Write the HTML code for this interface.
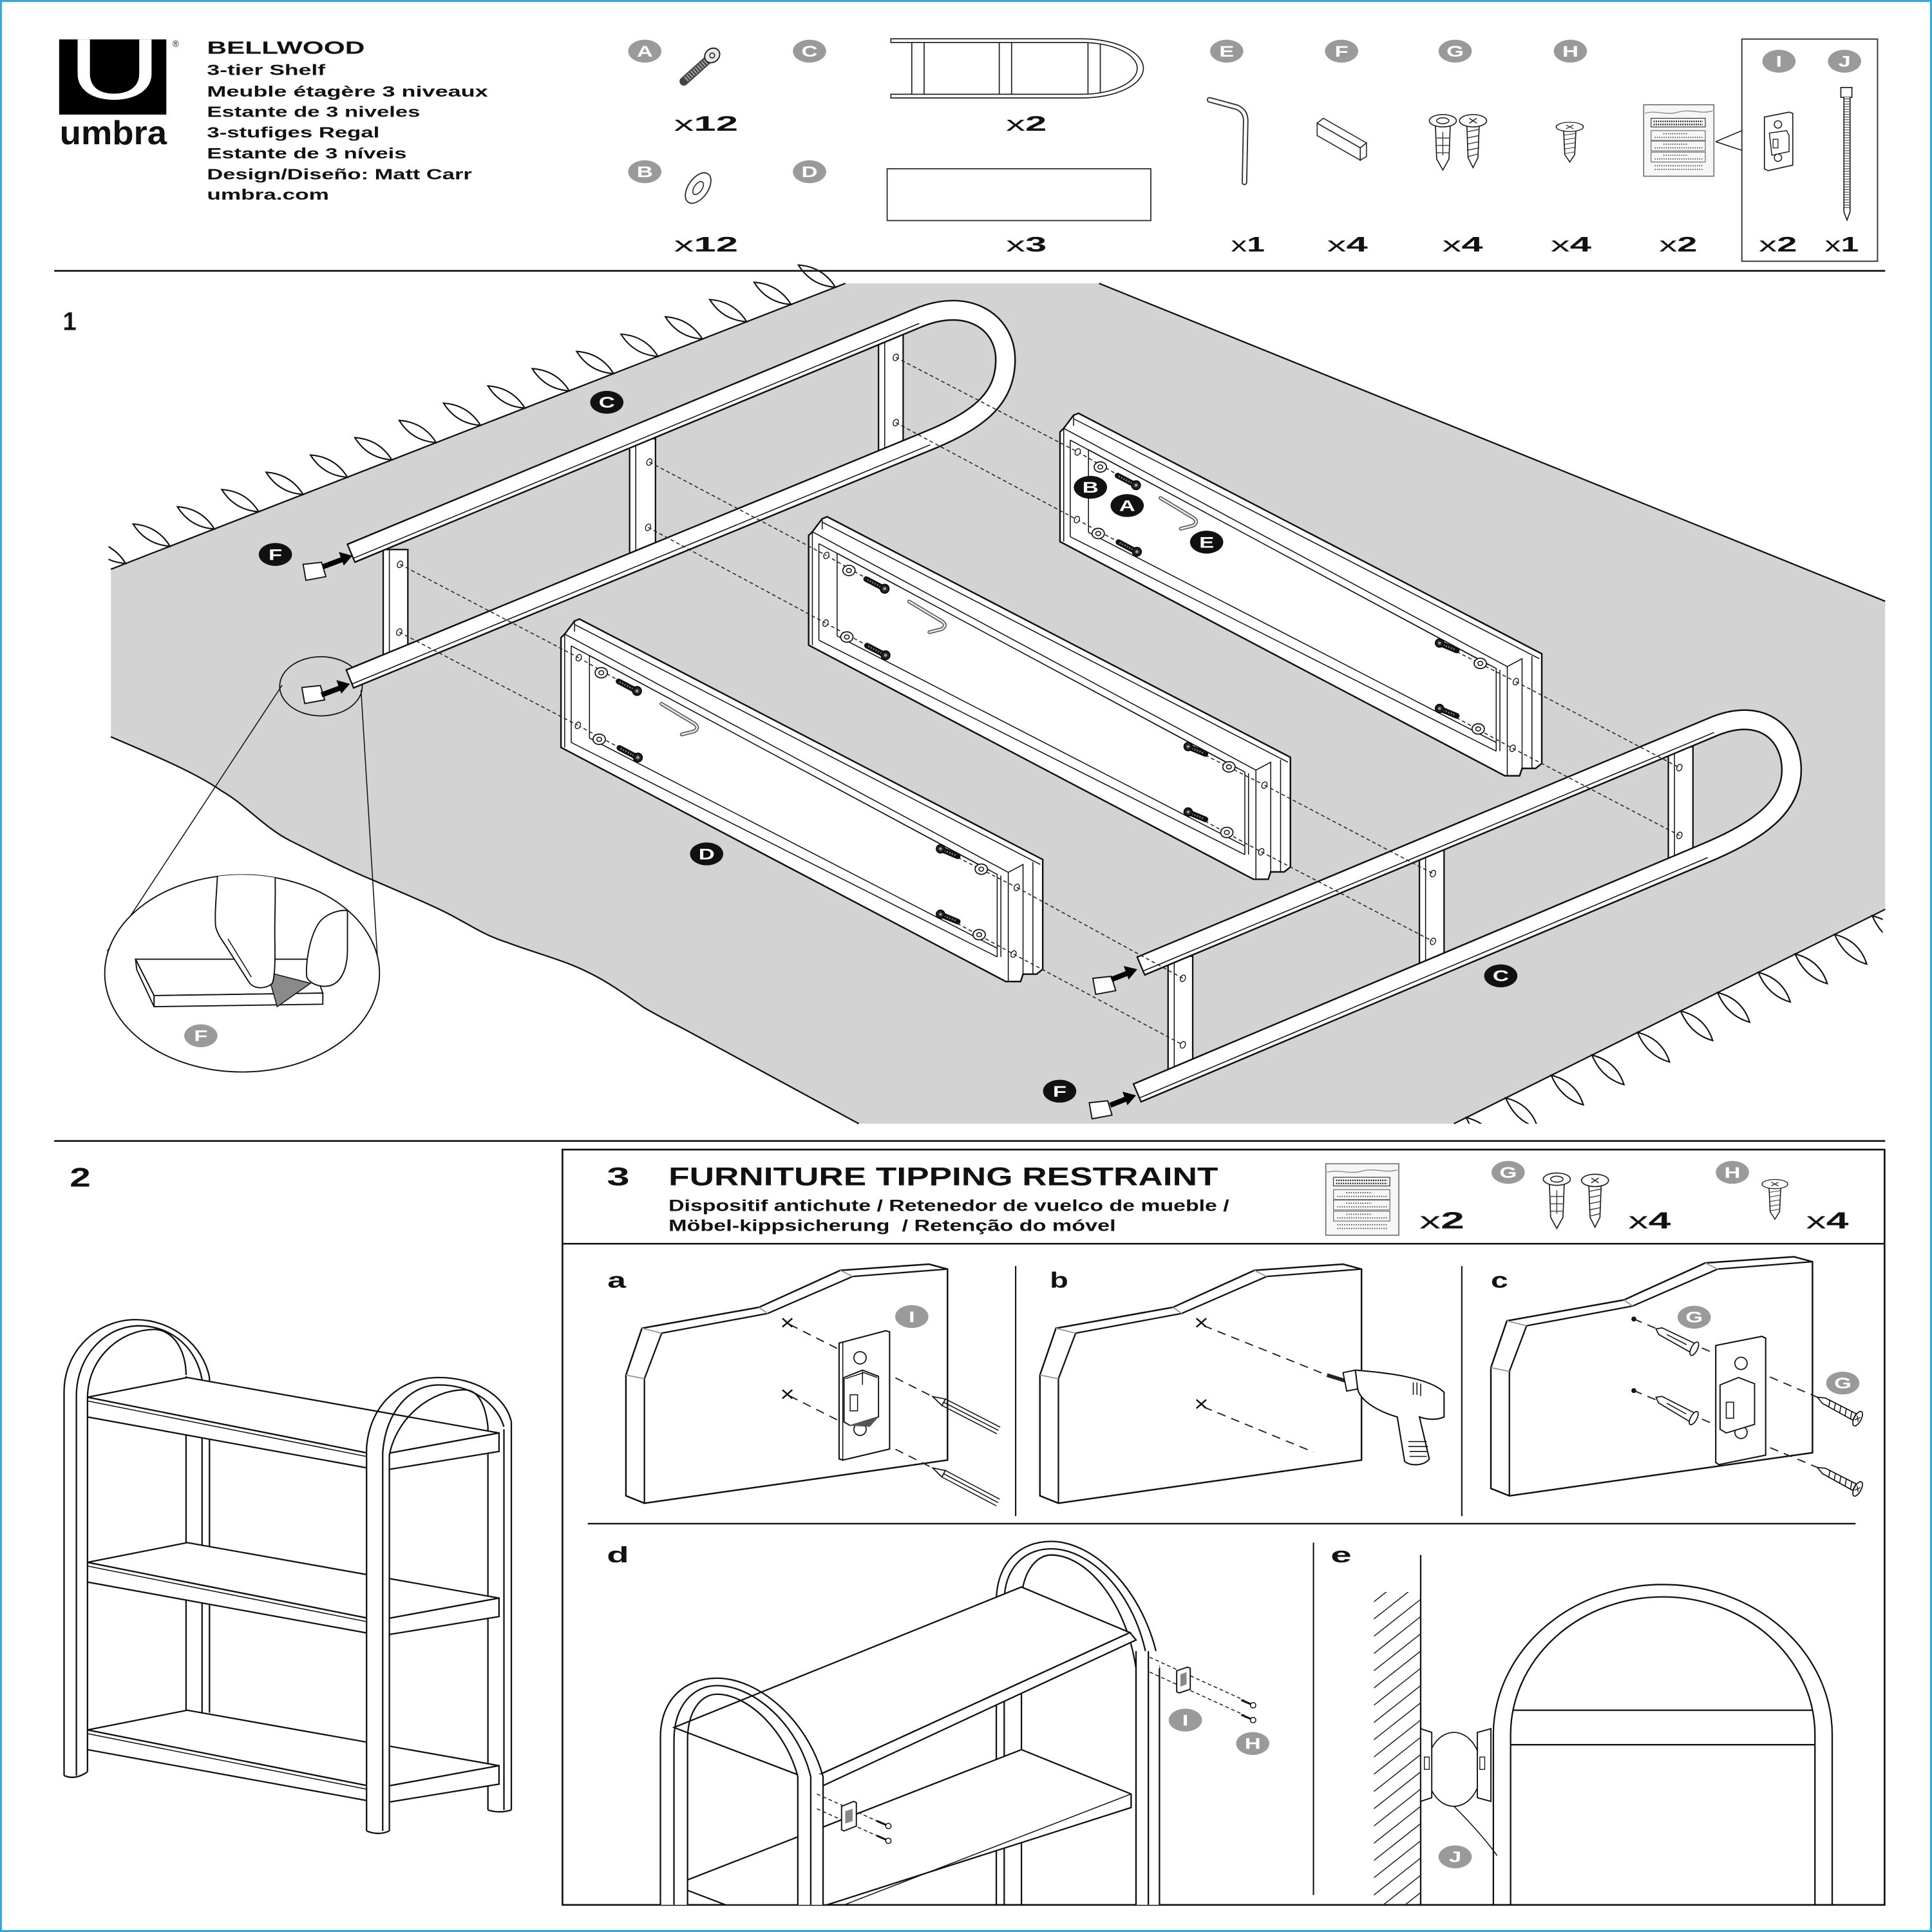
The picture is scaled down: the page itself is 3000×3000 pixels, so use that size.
<!DOCTYPE html>
<html><head><meta charset="utf-8"><title>Bellwood</title>
<style>
html,body{margin:0;padding:0;background:#fff}
svg{display:block}
text{font-family:"Liberation Sans",Arial,sans-serif;fill:#111}
.b{font-weight:bold}
.ln{fill:none;stroke:#111;stroke-width:1.2}
.th{fill:none;stroke:#111;stroke-width:.8}
.ds{fill:none;stroke:#222;stroke-width:.8;stroke-dasharray:3 2.2}
.dl{fill:none;stroke:#222;stroke-width:1;stroke-dasharray:7 5}
.wf{fill:#fff;stroke:#111;stroke-width:1.2}
.gc{fill:#9a9a9a}
.bc{fill:#111}
.lt{fill:#fff;font-weight:bold;font-size:12.5px}
</style></head><body>
<svg xmlns="http://www.w3.org/2000/svg" width="3000" height="3000" viewBox="0 0 1568 1568">
<defs>
<path id="lfA" d="M0,0 Q-10.4,-16.7 -30,-18 Q-19.6,-1.3 0,0 Z" fill="none" stroke="#111" stroke-width="1.1"/>
<path id="lfB" d="M0,0 Q8,19 26,24 Q20,5 0,0 Z" fill="none" stroke="#111" stroke-width="1.1"/>
<g id="wsh"><ellipse rx="5" ry="4.2" fill="#fff" stroke="#111" stroke-width=".9"/><ellipse rx="2" ry="1.7" fill="none" stroke="#111" stroke-width=".8"/></g>
<g id="hole"><ellipse rx="2" ry="2.8" fill="#fff" stroke="#111" stroke-width=".7" transform="rotate(25)"/></g>
<g id="scrL"><line x1="-15" y1="-7.8" x2="-2" y2="-1" stroke="#111" stroke-width="4.6" stroke-linecap="round"/><line x1="-14" y1="-7.3" x2="-3" y2="-1.5" stroke="#888" stroke-width="1.4" stroke-dasharray="1 1.2"/><circle r="3.6" fill="#222" stroke="#000" stroke-width=".8"/><circle r="1.3" fill="#999"/></g>
<g id="scrR"><line x1="2" y1="1" x2="14" y2="6" stroke="#111" stroke-width="4.6" stroke-linecap="round"/><line x1="3" y1="1.5" x2="13" y2="5.5" stroke="#888" stroke-width="1.4" stroke-dasharray="1 1.2"/><circle r="3.4" fill="#222" stroke="#000" stroke-width=".8"/><circle r="1.2" fill="#999"/></g>
<g id="pnl">
<path d="M-3,3 L0,0 L8,-10.6 L12,-12.2 L388,183 L388,272 L383,276 L372,276 L370,282 L358,282 L-3,92 Z" fill="#fff" stroke="#111" stroke-width="1.3"/>
<path d="M0,0 L360,193.4 L360,282 M0,0 L0,92 M8,-10.6 L8,-2 M8,-7.8 L386,187 M360,193.4 L372,187 L372,276 M380,185 L380,276 M5.3,9.6 L5.3,88 M20.1,17.4 L20.1,84.5 M5.3,9.6 L351,195 L351,262 M354,196 L354,262 M5.3,88 L351,262 M20.1,17.4 L345,192 M20.1,84.5 L351,255" class="th"/>
<path d="M11.4,19.2 L58.7,46.2 M10.7,74.1 L59.4,100.2 M305,174.3 L366.9,205.6 M305,227.4 L364.3,259.7" class="ds"/>
<use href="#hole" x="11.4" y="19.2"/><use href="#hole" x="10.7" y="74.1"/>
<use href="#hole" x="366.9" y="205.6"/><use href="#hole" x="364.3" y="259.7"/>
<use href="#wsh" x="29.7" y="31.4"/><use href="#wsh" x="28" y="85.4"/>
<use href="#wsh" x="338.1" y="190.8"/><use href="#wsh" x="336.4" y="244"/>
<use href="#scrL" x="58.7" y="46.2"/><use href="#scrL" x="59.4" y="100.2"/>
<use href="#scrR" x="305" y="174.3"/><use href="#scrR" x="305" y="227.4"/>
<path d="M78.5,56.6 L105,72.5 Q110,76 105,79 L95,81.5" fill="none" stroke="#555" stroke-width="3" stroke-linecap="round"/>
<path d="M78.5,56.6 L105,72.5 Q110,76 105,79 L95,81.5" fill="none" stroke="#eee" stroke-width="1.3" stroke-linecap="round"/>
</g>
<g id="board">
<path d="M508,1116 L508,1214 L523,1220 L769,1185 L769,1030 L754,1026 L682,1031 L616,1061 L521,1078 Z" fill="#fff" stroke="#111" stroke-width="1.3"/>
<path d="M523,1220 L523,1119 L537,1082 L623,1066 L692,1036 L769,1030" class="ln"/>
<path d="M508,1116 L523,1119 M521,1078 L537,1082 M616,1061 L623,1066 M682,1031 L692,1036" fill="none" stroke="#999" stroke-width="1"/>
</g>
<g id="bag">
<rect x="0" y="0" width="57" height="58" fill="#f6f6f6" stroke="#666" stroke-width=".8"/>
<path d="M1,7 C10,4 18,9 28,6 S46,8 56,5" fill="none" stroke="#888" stroke-width=".7"/>
<rect x="6" y="11" width="44" height="7" fill="#fff" stroke="#444" stroke-width=".7"/>
<path d="M8,13.5 H48 M8,16 H48" stroke="#222" stroke-width="1.3" stroke-dasharray="1 .8"/>
<rect x="6" y="21" width="44" height="8" fill="none" stroke="#666" stroke-width=".6"/>
<rect x="6" y="29.5" width="44" height="8" fill="none" stroke="#666" stroke-width=".6"/>
<rect x="6" y="38.5" width="44" height="8" fill="none" stroke="#666" stroke-width=".6"/>
<path d="M16,23.5 H36 M9,26.5 H48 M16,32 H36 M9,35 H48 M16,41 H36 M9,44 H48 M9,49.5 H48 M9,52.5 H48" stroke="#444" stroke-width=".9" stroke-dasharray=".8 1"/>
</g>
<g id="anchV"><path d="M-6,4 L-5,31 L0,40 L5,31 L6,4 Z" fill="#fff" stroke="#222" stroke-width=".9"/><path d="M0,9 V28 M-5,14 H5 M-5,20 H5 M-5,26 H5" fill="none" stroke="#333" stroke-width=".7"/><ellipse rx="11" ry="5" fill="#fff" stroke="#222" stroke-width=".9"/><ellipse rx="5" ry="2.4" fill="none" stroke="#222" stroke-width=".8"/></g>
<g id="scrV"><path d="M-5,4 L-4,30 L0,38 L4,30 L5,4 Z" fill="#fff" stroke="#222" stroke-width=".9"/><path d="M-5,9 L5,7 M-5,14 L5,12 M-5,19 L5,17 M-5,24 L5,22 M-4,29 L4,27" fill="none" stroke="#333" stroke-width=".7"/><ellipse rx="11" ry="5" fill="#fff" stroke="#222" stroke-width=".9"/><path d="M-3,-2 L3,2 M3,-2 L-3,2" stroke="#222" stroke-width=".8"/></g>
<g id="shf">
<path d="M71,1134 L152,1118 L405,1163 L307,1181 Z" class="wf"/>
<path d="M71,1134 L307,1181 L307,1193 L71,1150 Z" class="wf"/>
<path d="M307,1181 L405,1163 L405,1178 L307,1194 Z" class="wf"/>
<path d="M71,1137 L307,1184" class="th"/>
</g>
<clipPath id="cUL"><rect x="88" y="200" width="700" height="300"/></clipPath>
<clipPath id="cLR"><rect x="1100" y="700" width="428" height="212"/></clipPath>
<clipPath id="cMag"><ellipse cx="196.5" cy="790" rx="111.5" ry="80"/></clipPath>
<clipPath id="cBox"><rect x="457" y="1240" width="1071" height="306"/></clipPath>
<clipPath id="cHatch"><rect x="1115" y="1292" width="38" height="254"/></clipPath>
</defs>

<rect width="1568" height="1568" fill="#fff"/>
<rect x="0.8" y="0.8" width="1566.4" height="1566.4" fill="none" stroke="#35a8e0" stroke-width="1.6"/>

<!-- ===== HEADER ===== -->
<rect x="48" y="32" width="87" height="61" fill="#000"/>
<path d="M63,32 L63,60 C63,73 75,81 92.5,81 C110,81 123,73 123,60 L123,32 L113,32 L113,60 C113,70 105,76 92.5,76 C80,76 73,70 73,60 L73,32 Z" fill="#fff"/>
<text x="48.4" y="117" font-size="27" class="b" textLength="87" lengthAdjust="spacingAndGlyphs">umbra</text>
<text x="140" y="38" font-size="7">®</text>
<text x="168" y="43.6" font-size="14.5" class="b" textLength="128" lengthAdjust="spacingAndGlyphs">BELLWOOD</text>
<text x="168" y="61" font-size="12" class="b" textLength="96" lengthAdjust="spacingAndGlyphs">3-tier Shelf</text>
<text x="168" y="78.4" font-size="12" class="b" textLength="228" lengthAdjust="spacingAndGlyphs">Meuble étagère 3 niveaux</text>
<text x="168" y="95" font-size="12" class="b" textLength="173" lengthAdjust="spacingAndGlyphs">Estante de 3 niveles</text>
<text x="168" y="111.6" font-size="12" class="b" textLength="140" lengthAdjust="spacingAndGlyphs">3-stufiges Regal</text>
<text x="168" y="128.6" font-size="12" class="b" textLength="162" lengthAdjust="spacingAndGlyphs">Estante de 3 níveis</text>
<text x="168" y="145.5" font-size="12" class="b" textLength="215" lengthAdjust="spacingAndGlyphs">Design/Diseño: Matt Carr</text>
<text x="168" y="162" font-size="12" class="b" textLength="99" lengthAdjust="spacingAndGlyphs">umbra.com</text>

<!-- parts labels -->
<g transform="translate(523.3,41.5) scale(1.45,1)"><circle r="9.3" class="gc"/><text y="4.4" text-anchor="middle" class="lt">A</text></g>
<g transform="translate(657,41.5) scale(1.45,1)"><circle r="9.3" class="gc"/><text y="4.4" text-anchor="middle" class="lt">C</text></g>
<g transform="translate(523.3,139.4) scale(1.45,1)"><circle r="9.3" class="gc"/><text y="4.4" text-anchor="middle" class="lt">B</text></g>
<g transform="translate(657,139.4) scale(1.45,1)"><circle r="9.3" class="gc"/><text y="4.4" text-anchor="middle" class="lt">D</text></g>
<g transform="translate(995.6,41.5) scale(1.45,1)"><circle r="9.3" class="gc"/><text y="4.4" text-anchor="middle" class="lt">E</text></g>
<g transform="translate(1088.8,41.5) scale(1.45,1)"><circle r="9.3" class="gc"/><text y="4.4" text-anchor="middle" class="lt">F</text></g>
<g transform="translate(1181,41.5) scale(1.45,1)"><circle r="9.3" class="gc"/><text y="4.4" text-anchor="middle" class="lt">G</text></g>
<g transform="translate(1274.5,41.5) scale(1.45,1)"><circle r="9.3" class="gc"/><text y="4.4" text-anchor="middle" class="lt">H</text></g>
<g transform="translate(1443.8,49.7) scale(1.45,1)"><circle r="9.3" class="gc"/><text y="4.4" text-anchor="middle" class="lt">I</text></g>
<g transform="translate(1497,49.7) scale(1.45,1)"><circle r="9.3" class="gc"/><text y="4.4" text-anchor="middle" class="lt">J</text></g>

<!-- A screw -->
<line x1="574" y1="49" x2="555" y2="66" stroke="#444" stroke-width="7" stroke-linecap="round"/>
<line x1="573" y1="50" x2="556" y2="65" stroke="#aaa" stroke-width="5" stroke-dasharray="1 1.3"/>
<ellipse cx="578" cy="45" rx="6.5" ry="5.5" fill="#e8e8e8" stroke="#222" stroke-width="1" transform="rotate(-40 578 45)"/>
<circle cx="578" cy="45" r="2" fill="none" stroke="#222" stroke-width=".8"/>
<!-- B washer -->
<ellipse cx="566.6" cy="152.6" rx="14" ry="8" fill="#fff" stroke="#333" stroke-width="1" transform="rotate(-55 566.6 152.6)"/>
<ellipse cx="566.6" cy="152.6" rx="6" ry="3.2" fill="none" stroke="#333" stroke-width=".9" transform="rotate(-55 566.6 152.6)"/>
<!-- C rail -->
<path d="M723,31.5 L878,31.5 A50,24 0 0 1 878,79.5 L723,79.5 L723,76.5 L878,76.5 A45,21 0 0 0 878,34.5 L723,34.5 Z" fill="#fff" stroke="#222" stroke-width=".9"/>
<path d="M740,34.5 V76.5 M750,34.5 V76.5 M811,34.5 V76.5 M821,34.5 V76.5 M883,34.5 V76.5 M893,35.5 V75.5" fill="none" stroke="#222" stroke-width=".9"/>
<!-- D board -->
<rect x="720" y="137" width="214" height="42" fill="none" stroke="#222" stroke-width=".9"/>
<!-- E key -->
<path d="M981.7,81 L1003.7,87 Q1011,90 1011,98 L1010,148" fill="none" stroke="#333" stroke-width="4.6" stroke-linecap="round"/>
<path d="M981.7,81 L1003.7,87 Q1011,90 1011,98 L1010,148" fill="none" stroke="#fff" stroke-width="2.6" stroke-linecap="round"/>
<!-- F pad -->
<path d="M1069,100 L1074,96 L1109,116 L1104,120 Z" fill="#fff" stroke="#333" stroke-width=".9"/>
<path d="M1069,100 L1104,120 L1104,130 L1069,110 Z" fill="#fff" stroke="#333" stroke-width=".9"/>
<path d="M1104,120 L1109,116 L1109,127 L1104,130 Z" fill="#fff" stroke="#333" stroke-width=".9"/>
<!-- G anchor + screw -->
<use href="#anchV" x="1171" y="98"/>
<use href="#scrV" x="1195.5" y="98"/>
<!-- H screw -->
<g transform="translate(1274,103) scale(1,.75)"><use href="#scrV"/></g>
<!-- bag -->
<use href="#bag" x="1334" y="85"/>
<path d="M1392.5,115 L1413.7,106 M1392.5,115 L1413.7,122" class="th"/>
<rect x="1413.7" y="31.7" width="110.1" height="180.3" fill="none" stroke="#333" stroke-width="1"/>
<!-- I bracket -->
<path d="M1432,95 L1452,91 L1455,92 L1455,134 L1435,138.5 L1432,137 Z" fill="#fff" stroke="#222" stroke-width=".9"/>
<circle cx="1443" cy="101" r="3" fill="none" stroke="#222" stroke-width=".8"/>
<circle cx="1443" cy="128" r="3" fill="none" stroke="#222" stroke-width=".8"/>
<path d="M1436,108 L1450,106 L1452,110 L1452,123 L1438,126 Z" fill="#fff" stroke="#222" stroke-width=".8"/>
<rect x="1439" y="113" width="4" height="7" fill="none" stroke="#222" stroke-width=".7"/>
<!-- J tie -->
<rect x="1494" y="71" width="9" height="8" fill="#fff" stroke="#222" stroke-width=".9"/>
<path d="M1496.5,79 L1496.5,172 L1499,178.6 L1501.5,172 L1501.5,79" fill="#fff" stroke="#222" stroke-width=".9"/>
<line x1="1499" y1="80" x2="1499" y2="170" stroke="#444" stroke-width="4" stroke-dasharray=".6 1.5"/>

<!-- counts -->
<g font-size="17">
<text x="547" y="106" textLength="52" lengthAdjust="spacingAndGlyphs">x<tspan class="b">12</tspan></text>
<text x="816.5" y="106" textLength="33" lengthAdjust="spacingAndGlyphs">x<tspan class="b">2</tspan></text>
<text x="547" y="204" textLength="52" lengthAdjust="spacingAndGlyphs">x<tspan class="b">12</tspan></text>
<text x="816.5" y="204" textLength="33" lengthAdjust="spacingAndGlyphs">x<tspan class="b">3</tspan></text>
<text x="999" y="204" textLength="27.5" lengthAdjust="spacingAndGlyphs">x<tspan class="b">1</tspan></text>
<text x="1077" y="204" textLength="33" lengthAdjust="spacingAndGlyphs">x<tspan class="b">4</tspan></text>
<text x="1170.5" y="204" textLength="33" lengthAdjust="spacingAndGlyphs">x<tspan class="b">4</tspan></text>
<text x="1258.5" y="204" textLength="33" lengthAdjust="spacingAndGlyphs">x<tspan class="b">4</tspan></text>
<text x="1346.5" y="204" textLength="31" lengthAdjust="spacingAndGlyphs">x<tspan class="b">2</tspan></text>
<text x="1427.5" y="204" textLength="31" lengthAdjust="spacingAndGlyphs">x<tspan class="b">2</tspan></text>
<text x="1481" y="204" textLength="27.5" lengthAdjust="spacingAndGlyphs">x<tspan class="b">1</tspan></text>
</g>

<line x1="44" y1="219.8" x2="1530" y2="219.8" stroke="#111" stroke-width="1.4"/>

<!-- ===== STEP 1 ===== -->
<text x="51" y="268" font-size="21" class="b" textLength="11" lengthAdjust="spacingAndGlyphs">1</text>

<path d="M90,462 L686,230 L892,230 L1530,488 L1530,738 L1180,912 L697,912 L553,834 C545,830 530,822 523,818 C505,805 490,795 477,789 C460,780 430,772 412,765 C395,760 380,750 372,746 C355,736 320,722 302,714 C280,705 255,692 235,682 C215,672 198,652 180,642 C160,628 130,615 90,598 Z" fill="#d3d3d3"/>
<path d="M90,462 L686,230 M892,230 L1530,488 M1530,738 L1180,912" class="ln"/>
<path d="M90,598 C130,615 160,628 180,642 C198,652 215,672 235,682 C255,692 280,705 302,714 C320,722 355,736 372,746 C380,750 395,760 412,765 C430,772 460,780 477,789 C490,795 505,805 523,818 C530,822 545,830 553,834 L697,912" class="ln"/>

<g clip-path="url(#cUL)">
<use href="#lfA" x="102" y="457.3"/><use href="#lfA" x="138" y="443.3"/><use href="#lfA" x="174" y="429.3"/>
<use href="#lfA" x="210" y="415.3"/><use href="#lfA" x="246" y="401.3"/><use href="#lfA" x="282" y="387.3"/>
<use href="#lfA" x="318" y="373.2"/><use href="#lfA" x="354" y="359.2"/><use href="#lfA" x="390" y="345.2"/>
<use href="#lfA" x="426" y="331.2"/><use href="#lfA" x="462" y="317.2"/><use href="#lfA" x="498" y="303.2"/>
<use href="#lfA" x="534" y="289.2"/><use href="#lfA" x="570" y="275.1"/><use href="#lfA" x="606" y="261.1"/>
<use href="#lfA" x="642" y="247.1"/><use href="#lfA" x="678" y="233.1"/>
</g>
<g clip-path="url(#cLR)">
<use href="#lfB" x="1519.5" y="743.2"/><use href="#lfB" x="1489" y="758.4"/><use href="#lfB" x="1457" y="774.3"/>
<use href="#lfB" x="1427" y="789.2"/><use href="#lfB" x="1394" y="805.6"/><use href="#lfB" x="1364" y="820.5"/>
<use href="#lfB" x="1329" y="837.9"/><use href="#lfB" x="1292" y="856.3"/><use href="#lfB" x="1259" y="872.7"/>
<use href="#lfB" x="1222" y="891.1"/><use href="#lfB" x="1190" y="907"/>
</g>

<!-- magnifier -->
<path d="M229,556 L87,772 M293,560 L307,788" class="th"/>
<ellipse cx="260.5" cy="557" rx="33.5" ry="24" fill="none" stroke="#111" stroke-width=".9"/>
<ellipse cx="196.5" cy="790" rx="111.5" ry="80" fill="#fff" stroke="#111" stroke-width="1"/>
<g clip-path="url(#cMag)">
<path d="M110,778.5 L252,778.5 L262,806 L125,808 Z" fill="#fff" stroke="#111" stroke-width="1"/>
<path d="M125,808 L262,806 L262,815 L125,817 Z" fill="#fff" stroke="#111" stroke-width="1"/>
<path d="M110,778.5 L125,808 L125,817 L111,787 Z" fill="#fff" stroke="#111" stroke-width="1"/>
<path d="M217,789 L252,798 L225,817 Z" fill="#8a8a8a" stroke="#111" stroke-width=".8"/>
<path d="M177,700 C176,725 174,740 175,752 C177,760 182,765 186,772 L202,797 C206,803 216,803 221,798 C224,790 223,770 223,755 C223,740 224,725 223,700" fill="#fff" stroke="#111" stroke-width="1"/>
<path d="M185,762 L204,793" class="th"/>
<path d="M282,739 C275,738 262,742 257,752 C250,765 248,785 249,793 C252,800 265,803 272,798 C278,794 282,785 282,770 Z" fill="#fff" stroke="#111" stroke-width="1"/>
<path d="M282,700 L282,739" class="th"/>
</g>
<g transform="translate(163,840.6) scale(1.45,1)"><circle r="9.3" class="gc"/><text y="4.4" text-anchor="middle" class="lt">F</text></g>

<!-- left rail posts -->
<rect x="311" y="446" width="20" height="92" class="wf"/><line x1="316" y1="446" x2="316" y2="538" class="th"/>
<rect x="511" y="356" width="21" height="98" class="wf"/><line x1="516" y1="356" x2="516" y2="454" class="th"/>
<rect x="713" y="268" width="20" height="100" class="wf"/><line x1="718" y1="268" x2="718" y2="368" class="th"/>
<use href="#hole" x="324.6" y="458"/><use href="#hole" x="324" y="513"/>
<use href="#hole" x="527" y="375"/><use href="#hole" x="526" y="428"/>
<use href="#hole" x="727" y="290"/><use href="#hole" x="727" y="343"/>
<!-- left rail -->
<path d="M285,449 L745,258 C786.5,240.8 816,262 816,292 C816,322 796.6,339.8 755,357 L284,551" fill="none" stroke="#111" stroke-width="17"/>
<path d="M285,449 L745,258 C786.5,240.8 816,262 816,292 C816,322 796.6,339.8 755,357 L284,551" fill="none" stroke="#fff" stroke-width="14.4"/>
<path d="M287,453 L746,262.5 M286,555 L755,361" class="th"/>
<path d="M281.7,441.2 L288.3,456.8 M280.8,543.1 L287.2,558.9" class="ln"/>

<!-- right rail posts -->
<rect x="948" y="776" width="20" height="96" class="wf"/><line x1="953" y1="776" x2="953" y2="872" class="th"/>
<rect x="1152" y="690" width="20" height="97" class="wf"/><line x1="1157" y1="690" x2="1157" y2="787" class="th"/>
<rect x="1354" y="606" width="20" height="96" class="wf"/><line x1="1359" y1="606" x2="1359" y2="702" class="th"/>
<use href="#hole" x="960" y="794"/><use href="#hole" x="960" y="848"/>
<use href="#hole" x="1163" y="709"/><use href="#hole" x="1163" y="764"/>
<use href="#hole" x="1363" y="623"/><use href="#hole" x="1363" y="678"/>
<!-- right rail -->
<path d="M926,784 L1390,590 C1431.5,572.6 1454,597 1454,625 C1454,655 1426.5,674.6 1385,692 L923,887" fill="none" stroke="#111" stroke-width="17"/>
<path d="M926,784 L1390,590 C1431.5,572.6 1454,597 1454,625 C1454,655 1426.5,674.6 1385,692 L923,887" fill="none" stroke="#fff" stroke-width="14.4"/>
<path d="M928,788 L1391,594.5 M925,891 L1386,696" class="th"/>
<path d="M922.7,776.2 L929.3,791.8 M919.7,879.2 L926.3,894.8" class="ln"/>

<!-- panels D -->
<use href="#pnl" x="863.3" y="347.6"/>
<use href="#pnl" x="659.3" y="431.6"/>
<use href="#pnl" x="458.3" y="514.6"/>

<!-- dashed connectors -->
<path d="M324.6,458 L469.7,533.8 M324,513 L469,588.7 M527,375 L670.7,450.8 M526,428 L670,505.7 M727,290 L874.7,366.8 M727,343 L874,421.7 M825.2,720.2 L960,794 M822.6,774.3 L960,848 M1026.2,637.2 L1163,709 M1023.6,691.3 L1163,764 M1230.2,553.2 L1363,623 M1227.6,607.3 L1363,678" class="ds"/>

<!-- F pads and arrows -->
<path d="M246,458 L261,456.4 L264.5,468 L248.3,471 Z" fill="#fff" stroke="#111" stroke-width="1"/>
<path d="M245,558 L260,556.4 L263.5,568 L247.3,571 Z" fill="#fff" stroke="#111" stroke-width="1"/>
<path d="M887,794 L902,792.4 L905.5,804 L889.3,807 Z" fill="#fff" stroke="#111" stroke-width="1"/>
<path d="M884,895 L899,893.4 L902.5,905 L886.3,908 Z" fill="#fff" stroke="#111" stroke-width="1"/>
<g stroke="#000" stroke-width="4.2" fill="none">
<path d="M262,460 L278,454"/><path d="M261,564 L277,558"/><path d="M902,795 L916,789.5"/><path d="M901,897 L915,891.5"/>
</g>
<path d="M286,451 L275,448 L279,459 Z M284,555 L273,552 L277,563 Z M923,786.7 L912,784 L916,795 Z M922,889 L911,886 L915,897 Z" fill="#000"/>

<!-- step 1 labels -->
<g transform="translate(492.5,326.5) scale(1.45,1)"><circle r="9.3" class="bc"/><text y="4.4" text-anchor="middle" class="lt">C</text></g>
<g transform="translate(223.5,450) scale(1.45,1)"><circle r="9.3" class="bc"/><text y="4.4" text-anchor="middle" class="lt">F</text></g>
<g transform="translate(885,395.5) scale(1.45,1)"><circle r="9.3" class="bc"/><text y="4.4" text-anchor="middle" class="lt">B</text></g>
<g transform="translate(914.8,410.3) scale(1.45,1)"><circle r="9.3" class="bc"/><text y="4.4" text-anchor="middle" class="lt">A</text></g>
<g transform="translate(979.3,440) scale(1.45,1)"><circle r="9.3" class="bc"/><text y="4.4" text-anchor="middle" class="lt">E</text></g>
<g transform="translate(573.5,693) scale(1.45,1)"><circle r="9.3" class="bc"/><text y="4.4" text-anchor="middle" class="lt">D</text></g>
<g transform="translate(1218,792) scale(1.45,1)"><circle r="9.3" class="bc"/><text y="4.4" text-anchor="middle" class="lt">C</text></g>
<g transform="translate(860,885.6) scale(1.45,1)"><circle r="9.3" class="bc"/><text y="4.4" text-anchor="middle" class="lt">F</text></g>

<line x1="44" y1="926" x2="1530" y2="926" stroke="#111" stroke-width="1.4"/>

<!-- ===== STEP 2 ===== -->
<text x="56.6" y="963" font-size="22" class="b" textLength="17" lengthAdjust="spacingAndGlyphs">2</text>
<path d="M151,1117 V1390 M164,1120 V1390 M170,1118 V1390" class="ln"/>
<path d="M396,1158 V1469 M409,1160 V1469 M415,1154 V1469 M396,1469 Q405,1472 415,1469" class="ln"/>
<use href="#shf"/>
<use href="#shf" y="134"/>
<use href="#shf" y="270"/>
<rect x="52" y="1130" width="19" height="311" fill="#fff"/>
<path d="M52,1441 V1130 C52,1095 80,1071 110,1071 C140,1071 165,1092 170,1118 M62,1441 V1133 C62,1100 86,1076 113,1076 C140,1076 160,1095 164,1120 M71,1438 V1135 C71,1100 100,1079 125,1079 C140,1079 151,1095 151,1116 M52,1441 Q61,1445 71,1438" class="ln"/>
<rect x="297.5" y="1176" width="18.5" height="310" fill="#fff"/>
<path d="M297.5,1486 V1175 C300,1140 325,1118 356,1118 C385,1118 410,1132 415,1154 M310.6,1486 V1179 C313,1145 333,1124 356,1124 C382,1124 403,1138 409,1158 M316,1486 V1181 C322,1150 350,1128 377,1128 C388,1128 394,1140 396,1158 M297.5,1486 Q307,1490 316,1486" class="ln"/>

<!-- ===== STEP 3 ===== -->
<rect x="456.5" y="933" width="1073" height="613" fill="none" stroke="#111" stroke-width="1.4"/>
<line x1="456.5" y1="1009.4" x2="1529.5" y2="1009.4" stroke="#111" stroke-width="1.3"/>
<text x="492.5" y="962" font-size="21" class="b" textLength="18.5" lengthAdjust="spacingAndGlyphs">3</text>
<text x="542.6" y="962" font-size="21" class="b" textLength="446" lengthAdjust="spacingAndGlyphs">FURNITURE TIPPING RESTRAINT</text>
<text x="542.6" y="983" font-size="13" class="b" textLength="455" lengthAdjust="spacingAndGlyphs">Dispositif antichute / Retenedor de vuelco de mueble /</text>
<text x="542.6" y="999" font-size="13" class="b" textLength="363" lengthAdjust="spacingAndGlyphs">Möbel-kippsicherung&#160; / Retenção do móvel</text>
<g transform="translate(1076,944.5) scale(1.04,1)"><use href="#bag"/></g>
<use href="#anchV" x="1263.5" y="957"/>
<use href="#scrV" x="1294.5" y="958"/>
<g transform="translate(1440.5,961) scale(.95,.75)"><use href="#scrV"/></g>
<g transform="translate(1224,951.5) scale(1.45,1)"><circle r="9.3" class="gc"/><text y="4.4" text-anchor="middle" class="lt">G</text></g>
<g transform="translate(1406,951.5) scale(1.45,1)"><circle r="9.3" class="gc"/><text y="4.4" text-anchor="middle" class="lt">H</text></g>
<g font-size="19">
<text x="1152" y="997" textLength="36.5" lengthAdjust="spacingAndGlyphs">x<tspan class="b">2</tspan></text>
<text x="1321.5" y="997" textLength="34.5" lengthAdjust="spacingAndGlyphs">x<tspan class="b">4</tspan></text>
<text x="1465.8" y="997" textLength="34.5" lengthAdjust="spacingAndGlyphs">x<tspan class="b">4</tspan></text>
</g>

<!-- sub labels and dividers -->
<g font-size="18" class="b">
<text x="493" y="1045" textLength="15" lengthAdjust="spacingAndGlyphs">a</text>
<text x="852" y="1045" textLength="15" lengthAdjust="spacingAndGlyphs">b</text>
<text x="1210" y="1045" textLength="14" lengthAdjust="spacingAndGlyphs">c</text>
<text x="492.5" y="1268" textLength="18" lengthAdjust="spacingAndGlyphs">d</text>
<text x="1080" y="1268" textLength="17" lengthAdjust="spacingAndGlyphs">e</text>
</g>
<path d="M824.3,1027.5 V1230.5 M1186.4,1027.5 V1230.5" stroke="#111" stroke-width="1.1"/>
<line x1="477" y1="1236.6" x2="1506" y2="1236.6" stroke="#111" stroke-width="1.2"/>

<!-- panel a -->
<use href="#board"/>
<path d="M641,1075 L757,1133.5 M641,1133 L757,1191.4" class="dl"/>
<path d="M681,1090 L719,1080 L722,1081 L722,1176 L684,1185 L681,1184 Z" fill="#fff" stroke="#111" stroke-width="1.1"/>
<path d="M684,1089 L684,1185" class="th"/>
<circle cx="698" cy="1102" r="5" fill="#fff" stroke="#111" stroke-width=".9"/>
<circle cx="698" cy="1160" r="5" fill="#fff" stroke="#111" stroke-width=".9"/>
<path d="M685,1118 L700,1112 L713,1117 L713,1150 L690,1157 L685,1154 Z" fill="#fff" stroke="#111" stroke-width="1"/>
<path d="M686,1119 L701,1114 L712,1118 M700,1113 L700,1124" class="th"/>
<rect x="690" y="1132" width="6" height="13" fill="none" stroke="#111" stroke-width=".8"/>
<path d="M688,1157 L713,1150 L706,1158 Z" fill="#555"/>
<path d="M635,1070 L643,1077 M643,1070 L635,1077 M635,1128 L643,1135 M643,1128 L635,1135" stroke="#111" stroke-width="1.3"/>
<g transform="translate(757,1133.5) rotate(27.2)"><path d="M0,0 L10,-3 L10,3 Z" fill="#fff" stroke="#111" stroke-width=".9"/><path d="M10,-3 L60,-3 M10,3 L60,3 M10,0 L60,0" class="th"/></g>
<g transform="translate(757,1191.4) rotate(27.9)"><path d="M0,0 L10,-3 L10,3 Z" fill="#fff" stroke="#111" stroke-width=".9"/><path d="M10,-3 L60,-3 M10,3 L60,3 M10,0 L60,0" class="th"/></g>
<g transform="translate(740,1068.5) scale(1.45,1)"><circle r="9.3" class="gc"/><text y="4.4" text-anchor="middle" class="lt">I</text></g>

<!-- panel b -->
<use href="#board" transform="translate(336,0)"/>
<path d="M971,1070 L979,1077 M979,1070 L971,1077 M971,1136 L979,1143 M979,1136 L971,1143" stroke="#111" stroke-width="1.3"/>
<path d="M977,1076 L1077,1116 M977,1142 L1066,1178.5" class="dl"/>
<line x1="1077" y1="1116" x2="1093" y2="1121" stroke="#222" stroke-width="3"/>
<path d="M1090,1114 L1100,1112 L1103,1127 L1093,1129 Z" fill="#fff" stroke="#111" stroke-width="1"/>
<path d="M1100,1112 C1125,1114 1160,1118 1172,1130 L1172,1150 C1165,1153 1158,1152 1152,1150 L1160,1184 C1156,1190 1144,1190 1140,1186 L1134,1150 C1120,1146 1105,1138 1102,1128 Z" fill="#fff" stroke="#111" stroke-width="1.1"/>
<path d="M1147,1122 V1132 M1150,1122 V1132 M1153,1123 V1133 M1143,1170 H1158 M1143,1174 H1159 M1144,1178 H1159 M1144,1182 H1158" class="th"/>

<!-- panel c -->
<use href="#board" transform="translate(702,-6)"/>
<circle cx="1326" cy="1070.5" r="2" fill="#111"/>
<circle cx="1326" cy="1128.6" r="2" fill="#111"/>
<path d="M1326,1070.5 L1475,1134 M1326,1128.6 L1475,1191" class="dl"/>
<path d="M1392.5,1092 L1430,1084.6 L1433,1086 L1433,1181 L1395,1188.7 L1392.5,1187 Z" fill="#fff" stroke="#111" stroke-width="1.1"/>
<circle cx="1413" cy="1106.5" r="5" fill="#fff" stroke="#111" stroke-width=".9"/>
<circle cx="1413" cy="1162.5" r="5" fill="#fff" stroke="#111" stroke-width=".9"/>
<path d="M1396,1124 L1411,1118 L1424,1123 L1424,1156 L1401,1163 L1396,1160 Z" fill="#fff" stroke="#111" stroke-width="1"/>
<rect x="1401" y="1138" width="6" height="13" fill="none" stroke="#111" stroke-width=".8"/>
<g transform="translate(1344,1078.5) rotate(27.4)"><path d="M0,0 L4,-3 L33,-4 L33,4 L4,3 Z" fill="#fff" stroke="#111" stroke-width=".9"/><path d="M10,0 L28,0" class="th"/><ellipse cx="35" rx="2.5" ry="6" fill="#fff" stroke="#111" stroke-width=".9"/></g>
<g transform="translate(1344,1134) rotate(29)"><path d="M0,0 L4,-3 L33,-4 L33,4 L4,3 Z" fill="#fff" stroke="#111" stroke-width=".9"/><path d="M10,0 L28,0" class="th"/><ellipse cx="35" rx="2.5" ry="6" fill="#fff" stroke="#111" stroke-width=".9"/></g>
<g transform="translate(1475,1134) rotate(28)"><path d="M0,0 L6,-2.5 L34,-3 L34,3 L6,2.5 Z" fill="#fff" stroke="#111" stroke-width=".9"/><path d="M10,-3 L12,3 M15,-3 L17,3 M20,-3 L22,3 M25,-3 L27,3 M30,-3 L32,3" class="th"/><ellipse cx="37" rx="2.8" ry="6.5" fill="#fff" stroke="#111" stroke-width=".9"/><path d="M35.5,-2 L38.5,2 M38.5,-2 L35.5,2" stroke="#111" stroke-width=".7"/></g>
<g transform="translate(1475,1191) rotate(28)"><path d="M0,0 L6,-2.5 L34,-3 L34,3 L6,2.5 Z" fill="#fff" stroke="#111" stroke-width=".9"/><path d="M10,-3 L12,3 M15,-3 L17,3 M20,-3 L22,3 M25,-3 L27,3 M30,-3 L32,3" class="th"/><ellipse cx="37" rx="2.8" ry="6.5" fill="#fff" stroke="#111" stroke-width=".9"/><path d="M35.5,-2 L38.5,2 M38.5,-2 L35.5,2" stroke="#111" stroke-width=".7"/></g>
<g transform="translate(1375,1069) scale(1.45,1)"><circle r="9.3" class="gc"/><text y="4.4" text-anchor="middle" class="lt">G</text></g>
<g transform="translate(1495.6,1122.5) scale(1.45,1)"><circle r="9.3" class="gc"/><text y="4.4" text-anchor="middle" class="lt">G</text></g>

<!-- panel d -->
<g clip-path="url(#cBox)">
<path d="M808.6,1546 L808.6,1300 C808.6,1268 828,1251 853,1251 C890,1251 932,1295 941,1354 L941,1546 M815,1546 L815,1300 C815,1272 832,1257 853,1257 C887,1257 925,1297 932,1354 L932,1546 M829,1546 L829,1300 C829,1278 840,1262 853,1262 C882,1262 914,1300 922,1354 L922,1546" class="ln"/>
<path d="M547,1402 L829,1288 L917,1325 L657,1444 Z" class="wf"/>
<path d="M657,1444 L917,1325 L922,1331 L662,1452 Z" class="wf"/>
<path d="M547,1530 L829,1420 L918,1456 L918,1467 L671,1546 L589,1546 Z" class="wf"/>
<path d="M918,1456 L685,1546" class="th"/>
<rect x="922" y="1340" width="19" height="206" fill="#fff"/>
<path d="M922,1340 V1546 M932,1340 V1546 M941,1354 V1546" class="ln"/>
<rect x="647.5" y="1440" width="20.5" height="106" fill="#fff"/>
<rect x="536" y="1410" width="22" height="136" fill="#fff"/>
<path d="M536,1546 L536,1410 C536,1380 555,1362 582,1362 C615,1362 655,1395 668,1442 L668,1546 M547,1546 L547,1412 C547,1385 562,1368 582,1368 C612,1368 648,1400 658,1442 L658,1546 M558,1546 L558,1412 C558,1390 568,1375 582,1375 C607,1375 638,1405 647.5,1442 L647.5,1546" class="ln"/>
</g>
<path d="M663,1456 L712,1478 M663,1468 L712,1490 M933,1345 L1010,1380 M933,1357 L1010,1392" class="ds"/>
<path d="M683,1466 L693,1462 L695,1463 L695,1482 L685,1486 L683,1485 Z" fill="#fff" stroke="#111" stroke-width="1"/>
<path d="M686,1470 L692,1468 L692,1478 L686,1480 Z" fill="#888"/>
<path d="M955,1356 L964,1353 L966,1354 L966,1371 L957,1374 L955,1373 Z" fill="#fff" stroke="#111" stroke-width="1"/>
<path d="M958,1359 L963,1357 L963,1367 L958,1369 Z" fill="#888"/>
<g stroke="#111" stroke-width="1.6" stroke-linecap="round"><path d="M712,1478 L719,1481 M712,1490 L719,1493 M1008,1380 L1015,1383 M1008,1392 L1015,1395"/></g>
<circle cx="721" cy="1482" r="2.2" fill="#fff" stroke="#111" stroke-width=".8"/>
<circle cx="721" cy="1494" r="2.2" fill="#fff" stroke="#111" stroke-width=".8"/>
<circle cx="1017" cy="1384" r="2.2" fill="#fff" stroke="#111" stroke-width=".8"/>
<circle cx="1017" cy="1396" r="2.2" fill="#fff" stroke="#111" stroke-width=".8"/>
<g transform="translate(962,1396) scale(1.45,1)"><circle r="9.3" class="gc"/><text y="4.4" text-anchor="middle" class="lt">I</text></g>
<g transform="translate(1016.7,1415) scale(1.45,1)"><circle r="9.3" class="gc"/><text y="4.4" text-anchor="middle" class="lt">H</text></g>

<!-- panel e -->
<line x1="1066" y1="1252" x2="1066" y2="1538" stroke="#111" stroke-width="1.1"/>
<line x1="1153" y1="1262" x2="1153" y2="1546" stroke="#111" stroke-width="1.2"/>
<g clip-path="url(#cHatch)" stroke="#222" stroke-width=".8">
<path d="M1115,1300 L1153,1270 M1115,1314 L1153,1284 M1115,1328 L1153,1298 M1115,1342 L1153,1312 M1115,1356 L1153,1326 M1115,1370 L1153,1340 M1115,1384 L1153,1354 M1115,1398 L1153,1368 M1115,1412 L1153,1382 M1115,1426 L1153,1396 M1115,1440 L1153,1410 M1115,1454 L1153,1424 M1115,1468 L1153,1438 M1115,1482 L1153,1452 M1115,1496 L1153,1466 M1115,1510 L1153,1480 M1115,1524 L1153,1494 M1115,1538 L1153,1508 M1115,1552 L1153,1522 M1115,1566 L1153,1536 M1115,1580 L1153,1550"/>
</g>
<path d="M1212,1546 V1408 A137.5,122 0 0 1 1487,1408 V1546 M1226,1546 V1408 A123.5,112 0 0 1 1473,1408 V1546" class="ln"/>
<path d="M1228,1388 H1471 M1226,1416 H1473" class="ln"/>
<ellipse cx="1180" cy="1436" rx="22" ry="30" fill="none" stroke="#111" stroke-width=".9"/>
<path d="M1180,1466 C1192,1478 1205,1492 1215,1506" class="th"/>
<path d="M1153,1403 L1162,1406 L1162,1459 L1153,1462 Z" fill="#fff" stroke="#111" stroke-width="1"/>
<rect x="1156" y="1426" width="4" height="10" fill="#fff" stroke="#111" stroke-width=".7"/>
<path d="M1210,1403 L1199,1406 L1199,1459 L1210,1462 Z" fill="#fff" stroke="#111" stroke-width="1"/>
<rect x="1201" y="1426" width="4" height="10" fill="#fff" stroke="#111" stroke-width=".7"/>
<g transform="translate(1181,1507) scale(1.45,1)"><circle r="9.3" class="gc"/><text y="4.4" text-anchor="middle" class="lt">J</text></g>
</svg>
</body></html>
